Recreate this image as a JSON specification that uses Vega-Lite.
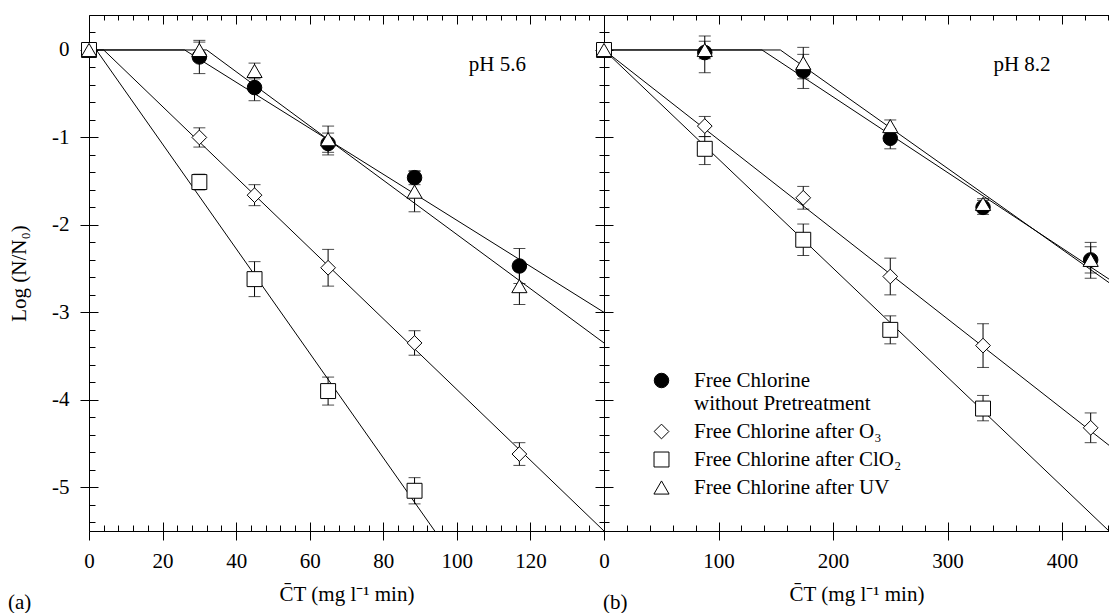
{
  "$schema": "https://vega.github.io/schema/vega-lite/v6.json",
  "padding": {"left": 8, "top": 14, "right": 0, "bottom": 0},
  "spacing": 0,
  "bounds": "flush",
  "config": {
    "view": {"stroke": null},
    "font": "Liberation Serif",
    "axis": {
      "grid": false,
      "domainColor": "black",
      "domainWidth": 1,
      "tickColor": "black",
      "tickWidth": 1,
      "labelColor": "black",
      "labelFont": "Liberation Serif",
      "labelFontSize": 21,
      "titleFont": "Liberation Serif",
      "titleFontSize": 21,
      "titleFontWeight": "normal",
      "titleColor": "black",
      "labelOverlap": false,
      "labelFlush": false
    },
    "legend": {"symbolStrokeColor": "black", "symbolStrokeWidth": 1},
    "title": {"font": "Liberation Serif", "fontSize": 21, "fontWeight": "normal", "color": "black"}
  },
  "resolve": {"scale": {"shape": "independent", "color": "independent", "size": "independent"}},
  "datasets": {
    "pts56": [
      {"s": "Free Chlorine without Pretreatment", "x": 0, "y": 0, "lo": null, "hi": null},
      {"s": "Free Chlorine without Pretreatment", "x": 30, "y": -0.08, "lo": -0.27, "hi": 0.11},
      {"s": "Free Chlorine without Pretreatment", "x": 45, "y": -0.43, "lo": -0.58, "hi": -0.3},
      {"s": "Free Chlorine without Pretreatment", "x": 65, "y": -1.07, "lo": -1.2, "hi": -0.95},
      {"s": "Free Chlorine without Pretreatment", "x": 88.5, "y": -1.46, "lo": -1.54, "hi": -1.38},
      {"s": "Free Chlorine without Pretreatment", "x": 117, "y": -2.47, "lo": -2.67, "hi": -2.27},
      {"s": "Free Chlorine after O₃", "x": 0, "y": 0, "lo": null, "hi": null},
      {"s": "Free Chlorine after O₃", "x": 30, "y": -1.0, "lo": -1.11, "hi": -0.89},
      {"s": "Free Chlorine after O₃", "x": 45, "y": -1.66, "lo": -1.78, "hi": -1.54},
      {"s": "Free Chlorine after O₃", "x": 65, "y": -2.49, "lo": -2.7, "hi": -2.28},
      {"s": "Free Chlorine after O₃", "x": 88.5, "y": -3.35, "lo": -3.49, "hi": -3.21},
      {"s": "Free Chlorine after O₃", "x": 117, "y": -4.62, "lo": -4.75, "hi": -4.49},
      {"s": "Free Chlorine after ClO₂", "x": 0, "y": 0, "lo": null, "hi": null},
      {"s": "Free Chlorine after ClO₂", "x": 30, "y": -1.51, "lo": -1.6, "hi": -1.42},
      {"s": "Free Chlorine after ClO₂", "x": 45, "y": -2.62, "lo": -2.82, "hi": -2.42},
      {"s": "Free Chlorine after ClO₂", "x": 65, "y": -3.9, "lo": -4.06, "hi": -3.74},
      {"s": "Free Chlorine after ClO₂", "x": 88.5, "y": -5.04, "lo": -5.19, "hi": -4.89},
      {"s": "Free Chlorine after UV", "x": 0, "y": 0, "lo": null, "hi": null},
      {"s": "Free Chlorine after UV", "x": 30, "y": 0.0, "lo": -0.09, "hi": 0.09},
      {"s": "Free Chlorine after UV", "x": 45, "y": -0.24, "lo": -0.33, "hi": -0.15},
      {"s": "Free Chlorine after UV", "x": 65, "y": -1.02, "lo": -1.17, "hi": -0.87},
      {"s": "Free Chlorine after UV", "x": 88.5, "y": -1.62, "lo": -1.85, "hi": -1.39},
      {"s": "Free Chlorine after UV", "x": 117, "y": -2.7, "lo": -2.91, "hi": -2.49}
    ],
    "fit56": [
      {"s": "NP", "x": 0, "y": 0}, {"s": "NP", "x": 26, "y": 0}, {"s": "NP", "x": 140, "y": -3.0},
      {"s": "UV", "x": 0, "y": 0}, {"s": "UV", "x": 32, "y": 0}, {"s": "UV", "x": 140, "y": -3.35},
      {"s": "O3", "x": 0, "y": 0}, {"s": "O3", "x": 4, "y": 0}, {"s": "O3", "x": 140, "y": -5.5},
      {"s": "CL", "x": 0, "y": 0}, {"s": "CL", "x": 2, "y": 0}, {"s": "CL", "x": 94, "y": -5.5}
    ],
    "pts82": [
      {"s": "Free Chlorine without Pretreatment", "x": 0, "y": 0, "lo": null, "hi": null},
      {"s": "Free Chlorine without Pretreatment", "x": 88, "y": -0.03, "lo": -0.26, "hi": 0.16},
      {"s": "Free Chlorine without Pretreatment", "x": 174, "y": -0.24, "lo": -0.44, "hi": -0.05},
      {"s": "Free Chlorine without Pretreatment", "x": 250, "y": -1.01, "lo": -1.13, "hi": -0.9},
      {"s": "Free Chlorine without Pretreatment", "x": 331, "y": -1.8, "lo": -1.88, "hi": -1.72},
      {"s": "Free Chlorine without Pretreatment", "x": 425, "y": -2.4, "lo": -2.61, "hi": -2.2},
      {"s": "Free Chlorine after O₃", "x": 0, "y": 0, "lo": null, "hi": null},
      {"s": "Free Chlorine after O₃", "x": 88, "y": -0.87, "lo": -0.99, "hi": -0.76},
      {"s": "Free Chlorine after O₃", "x": 174, "y": -1.69, "lo": -1.82, "hi": -1.56},
      {"s": "Free Chlorine after O₃", "x": 250, "y": -2.59, "lo": -2.8, "hi": -2.38},
      {"s": "Free Chlorine after O₃", "x": 331, "y": -3.38, "lo": -3.63, "hi": -3.13},
      {"s": "Free Chlorine after O₃", "x": 425, "y": -4.32, "lo": -4.49, "hi": -4.15},
      {"s": "Free Chlorine after ClO₂", "x": 0, "y": 0, "lo": null, "hi": null},
      {"s": "Free Chlorine after ClO₂", "x": 88, "y": -1.13, "lo": -1.31, "hi": -0.99},
      {"s": "Free Chlorine after ClO₂", "x": 174, "y": -2.17, "lo": -2.35, "hi": -1.99},
      {"s": "Free Chlorine after ClO₂", "x": 250, "y": -3.2, "lo": -3.36, "hi": -3.04},
      {"s": "Free Chlorine after ClO₂", "x": 331, "y": -4.1, "lo": -4.24, "hi": -3.95},
      {"s": "Free Chlorine after UV", "x": 0, "y": 0, "lo": null, "hi": null},
      {"s": "Free Chlorine after UV", "x": 88, "y": 0.0, "lo": -0.1, "hi": 0.1},
      {"s": "Free Chlorine after UV", "x": 174, "y": -0.15, "lo": -0.33, "hi": 0.03},
      {"s": "Free Chlorine after UV", "x": 250, "y": -0.87, "lo": -0.94, "hi": -0.8},
      {"s": "Free Chlorine after UV", "x": 331, "y": -1.76, "lo": -1.82, "hi": -1.7},
      {"s": "Free Chlorine after UV", "x": 425, "y": -2.4, "lo": -2.55, "hi": -2.25}
    ],
    "fit82": [
      {"s": "NP", "x": 0, "y": 0}, {"s": "NP", "x": 138, "y": 0}, {"s": "NP", "x": 441, "y": -2.62},
      {"s": "UV", "x": 0, "y": 0}, {"s": "UV", "x": 154, "y": 0}, {"s": "UV", "x": 441, "y": -2.66},
      {"s": "O3", "x": 0, "y": 0}, {"s": "O3", "x": 441, "y": -4.52},
      {"s": "CL", "x": 0, "y": 0}, {"s": "CL", "x": 441, "y": -5.5}
    ]
  },
  "hconcat": [
    {
      "width": 515,
      "height": 516,
      "title": {"text": "(a)", "orient": "bottom", "anchor": "start", "frame": "group", "dx": -81, "dy": -12, "offset": 0},
      "resolve": {"axis": {"x": "independent", "y": "independent"}},
      "layer": [
        {
          "data": {"name": "fit56"},
          "mark": {"type": "line", "color": "black", "strokeWidth": 1, "clip": true},
          "encoding": {
            "x": {"field": "x", "type": "quantitative", "scale": {"domain": [0, 140], "nice": false, "zero": false},
                  "axis": {"orient": "bottom", "values": [0, 20, 40, 60, 80, 100, 120, 140], "tickSize": -9, "labels": false, "domain": false, "title": null}},
            "y": {"field": "y", "type": "quantitative", "scale": {"domain": [-5.5, 0.4], "nice": false, "zero": false},
                  "axis": {"orient": "left", "values": [-5, -4, -3, -2, -1, 0], "tickSize": -9, "labels": false, "domain": false, "title": null}},
            "detail": {"field": "s"}
          }
        },
        {
          "data": {"name": "pts56"},
          "transform": [{"filter": "datum.lo != null"}],
          "mark": {"type": "rule", "color": "black", "strokeWidth": 1},
          "encoding": {
            "x": {"field": "x", "type": "quantitative", "scale": {"domain": [0, 140], "nice": false, "zero": false},
                  "axis": {"orient": "top", "values": [0,4,8,12,16,20,24,28,32,36,40,44,48,52,56,60,64,68,72,76,80,84,88,92,96,100,104,108,112,116,120,124,128,132,136,140],
                           "tickSize": {"condition": {"test": "datum.value % 20 == 0", "value": -9}, "value": -5}, "labels": false, "title": null, "domain": true}},
            "y": {"field": "lo", "type": "quantitative", "scale": {"domain": [-5.5, 0.4], "nice": false, "zero": false},
                  "axis": {"orient": "right", "values": [-5.4,-5.2,-5,-4.8,-4.6,-4.4,-4.2,-4,-3.8,-3.6,-3.4,-3.2,-3,-2.8,-2.6,-2.4,-2.2,-2,-1.8,-1.6,-1.4,-1.2,-1,-0.8,-0.6,-0.4,-0.2,0,0.2],
                           "tickSize": {"condition": {"test": "abs(datum.value - round(datum.value)) < 0.01", "value": -9}, "value": -5}, "labels": false, "title": null, "domain": true}},
            "y2": {"field": "hi"}
          }
        },
        {
          "data": {"name": "pts56"},
          "transform": [{"filter": "datum.lo != null"}],
          "mark": {"type": "tick", "orient": "horizontal", "size": 12, "thickness": 1, "color": "black"},
          "encoding": {
            "x": {"field": "x", "type": "quantitative", "axis": null},
            "y": {"field": "lo", "type": "quantitative", "axis": null}
          }
        },
        {
          "data": {"name": "pts56"},
          "transform": [{"filter": "datum.lo != null"}],
          "mark": {"type": "tick", "orient": "horizontal", "size": 12, "thickness": 1, "color": "black"},
          "encoding": {
            "x": {"field": "x", "type": "quantitative", "axis": null},
            "y": {"field": "hi", "type": "quantitative", "axis": null}
          }
        },
        {
          "data": {"name": "pts56"},
          "mark": {"type": "point", "filled": true, "stroke": "black", "strokeWidth": 1, "opacity": 1},
          "encoding": {
            "x": {"field": "x", "type": "quantitative",
                  "axis": {"orient": "bottom", "values": [0,4,8,12,16,20,24,28,32,36,40,44,48,52,56,60,64,68,72,76,80,84,88,92,96,100,104,108,112,116,120,124,128,132,136],
                           "tickSize": {"condition": {"test": "datum.value % 20 == 0", "value": 9}, "value": -6},
                           "labelExpr": "datum.value % 20 == 0 && datum.value <= 120 ? toString(datum.value) : ''",
                           "labelPadding": 10, "title": "C̄T (mg l⁻¹ min)", "titlePadding": 12, "domain": true}},
            "y": {"field": "y", "type": "quantitative",
                  "axis": {"orient": "left", "values": [-5.4,-5.2,-5,-4.8,-4.6,-4.4,-4.2,-4,-3.8,-3.6,-3.4,-3.2,-3,-2.8,-2.6,-2.4,-2.2,-2,-1.8,-1.6,-1.4,-1.2,-1,-0.8,-0.6,-0.4,-0.2,0,0.2],
                           "tickSize": {"condition": {"test": "abs(datum.value - round(datum.value)) < 0.01", "value": 9}, "value": -6},
                           "labelExpr": "abs(datum.value - round(datum.value)) < 0.01 ? toString(round(datum.value)) : ''",
                           "labelPadding": 11, "title": "Log (N/N₀)", "titlePadding": 22, "domain": true}},
            "shape": {"field": "s", "type": "nominal", "legend": null,
                      "scale": {"domain": ["Free Chlorine without Pretreatment", "Free Chlorine after O₃", "Free Chlorine after ClO₂", "Free Chlorine after UV"], "range": ["circle", "diamond", "square", "triangle-up"]}},
            "color": {"field": "s", "type": "nominal", "legend": null,
                      "scale": {"domain": ["Free Chlorine without Pretreatment", "Free Chlorine after O₃", "Free Chlorine after ClO₂", "Free Chlorine after UV"], "range": ["black", "white", "white", "white"]}},
            "size": {"field": "s", "type": "nominal", "legend": null,
                     "scale": {"domain": ["Free Chlorine without Pretreatment", "Free Chlorine after O₃", "Free Chlorine after ClO₂", "Free Chlorine after UV"], "range": [210, 230, 150, 185]}}
          }
        },
        {
          "data": {"values": [{"x": 111, "y": -0.17, "t": "pH 5.6"}]},
          "mark": {"type": "text", "font": "Liberation Serif", "fontSize": 21, "align": "center", "baseline": "middle", "color": "black"},
          "encoding": {
            "x": {"field": "x", "type": "quantitative", "axis": null},
            "y": {"field": "y", "type": "quantitative", "axis": null},
            "text": {"field": "t"}
          }
        }
      ]
    },
    {
      "width": 505,
      "height": 516,
      "title": {"text": "(b)", "orient": "bottom", "anchor": "start", "frame": "group", "dx": -1, "dy": -12, "offset": 0},
      "resolve": {"axis": {"x": "independent", "y": "independent"}},
      "layer": [
        {
          "data": {"name": "fit82"},
          "mark": {"type": "line", "color": "black", "strokeWidth": 1, "clip": true},
          "encoding": {
            "x": {"field": "x", "type": "quantitative", "scale": {"domain": [0, 441], "nice": false, "zero": false},
                  "axis": {"orient": "bottom", "values": [0, 100, 200, 300, 400], "tickSize": -9, "labels": false, "domain": false, "title": null}},
            "y": {"field": "y", "type": "quantitative", "scale": {"domain": [-5.5, 0.4], "nice": false, "zero": false}, "axis": null},
            "detail": {"field": "s"}
          }
        },
        {
          "data": {"name": "pts82"},
          "transform": [{"filter": "datum.lo != null"}],
          "mark": {"type": "rule", "color": "black", "strokeWidth": 1},
          "encoding": {
            "x": {"field": "x", "type": "quantitative", "scale": {"domain": [0, 441], "nice": false, "zero": false},
                  "axis": {"orient": "top", "values": [0,20,40,60,80,100,120,140,160,180,200,220,240,260,280,300,320,340,360,380,400,420,440],
                           "tickSize": {"condition": {"test": "datum.value % 100 == 0", "value": -9}, "value": -5}, "labels": false, "title": null, "domain": true}},
            "y": {"field": "lo", "type": "quantitative", "scale": {"domain": [-5.5, 0.4], "nice": false, "zero": false},
                  "axis": {"orient": "left", "values": [-5.4,-5.2,-5,-4.8,-4.6,-4.4,-4.2,-4,-3.8,-3.6,-3.4,-3.2,-3,-2.8,-2.6,-2.4,-2.2,-2,-1.8,-1.6,-1.4,-1.2,-1,-0.8,-0.6,-0.4,-0.2,0,0.2],
                           "tickSize": {"condition": {"test": "abs(datum.value - round(datum.value)) < 0.01", "value": -9}, "value": -5}, "labels": false, "title": null, "domain": true}},
            "y2": {"field": "hi"}
          }
        },
        {
          "data": {"name": "pts82"},
          "transform": [{"filter": "datum.lo != null"}],
          "mark": {"type": "tick", "orient": "horizontal", "size": 12, "thickness": 1, "color": "black"},
          "encoding": {
            "x": {"field": "x", "type": "quantitative", "axis": null},
            "y": {"field": "lo", "type": "quantitative", "axis": null}
          }
        },
        {
          "data": {"name": "pts82"},
          "transform": [{"filter": "datum.lo != null"}],
          "mark": {"type": "tick", "orient": "horizontal", "size": 12, "thickness": 1, "color": "black"},
          "encoding": {
            "x": {"field": "x", "type": "quantitative", "axis": null},
            "y": {"field": "hi", "type": "quantitative", "axis": null}
          }
        },
        {
          "data": {"name": "pts82"},
          "mark": {"type": "point", "filled": true, "stroke": "black", "strokeWidth": 1, "opacity": 1},
          "encoding": {
            "x": {"field": "x", "type": "quantitative",
                  "axis": {"orient": "bottom", "values": [0,20,40,60,80,100,120,140,160,180,200,220,240,260,280,300,320,340,360,380,400,420,440],
                           "tickSize": {"condition": {"test": "datum.value % 100 == 0", "value": 9}, "value": -6},
                           "labelExpr": "datum.value % 100 == 0 ? toString(datum.value) : ''",
                           "labelPadding": 10, "title": "C̄T (mg l⁻¹ min)", "titlePadding": 12, "domain": true}},
            "y": {"field": "y", "type": "quantitative", "axis": null},
            "shape": {"field": "s", "type": "nominal",
                      "scale": {"domain": ["Free Chlorine without Pretreatment", "Free Chlorine after O₃", "Free Chlorine after ClO₂", "Free Chlorine after UV"], "range": ["circle", "diamond", "square", "triangle-up"]},
                      "legend": {"orient": "none", "legendX": 47, "legendY": 355, "title": null, "padding": 0,
                                 "labelFont": "Liberation Serif", "labelFontSize": 21, "labelColor": "black", "labelLimit": 400, "labelOffset": 22, "rowPadding": 6,
                                 "symbolStrokeColor": "black", "symbolStrokeWidth": 1, "symbolSize": 185,
                                 "labelExpr": "datum.label == 'Free Chlorine without Pretreatment' ? ['Free Chlorine', 'without Pretreatment'] : datum.label",
                                 "encode": {"labels": {"update": {"lineHeight": {"value": 23}}}}}},
            "color": {"field": "s", "type": "nominal",
                      "scale": {"domain": ["Free Chlorine without Pretreatment", "Free Chlorine after O₃", "Free Chlorine after ClO₂", "Free Chlorine after UV"], "range": ["black", "white", "white", "white"]},
                      "legend": {"orient": "none", "legendX": 47, "legendY": 355, "title": null, "padding": 0,
                                 "labelFont": "Liberation Serif", "labelFontSize": 21, "labelColor": "black", "labelLimit": 400, "labelOffset": 22, "rowPadding": 6,
                                 "symbolStrokeColor": "black", "symbolStrokeWidth": 1, "symbolSize": 185,
                                 "labelExpr": "datum.label == 'Free Chlorine without Pretreatment' ? ['Free Chlorine', 'without Pretreatment'] : datum.label",
                                 "encode": {"labels": {"update": {"lineHeight": {"value": 23}}}}}},
            "size": {"field": "s", "type": "nominal", "legend": null,
                     "scale": {"domain": ["Free Chlorine without Pretreatment", "Free Chlorine after O₃", "Free Chlorine after ClO₂", "Free Chlorine after UV"], "range": [210, 230, 150, 185]}}
          }
        },
        {
          "data": {"values": [{"x": 365, "y": -0.17, "t": "pH 8.2"}]},
          "mark": {"type": "text", "font": "Liberation Serif", "fontSize": 21, "align": "center", "baseline": "middle", "color": "black"},
          "encoding": {
            "x": {"field": "x", "type": "quantitative", "axis": null},
            "y": {"field": "y", "type": "quantitative", "axis": null},
            "text": {"field": "t"}
          }
        }
      ]
    }
  ]
}
